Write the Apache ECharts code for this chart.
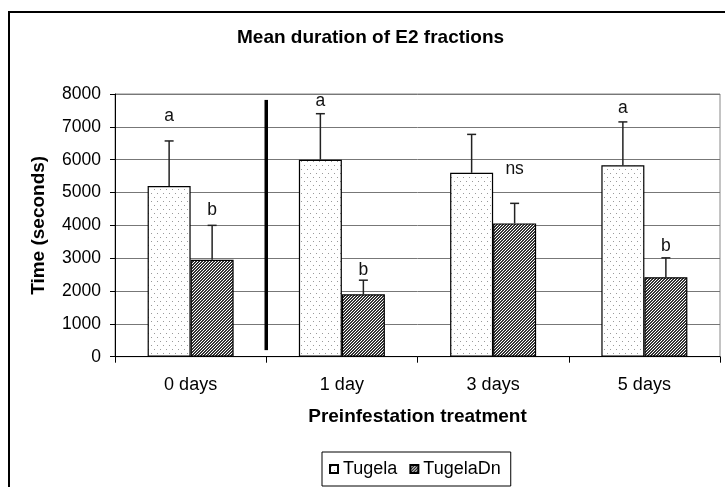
<!DOCTYPE html>
<html><head><meta charset="utf-8">
<script src="https://cdn.jsdelivr.net/npm/echarts@6/dist/echarts.min.js"></script>
<style>html,body{margin:0;padding:0;background:#fff}#c{width:725px;height:487px}</style>
</head><body><div id="c"></div><script>
const categories = ['0 days', '1 day', '3 days', '5 days'];
const tugela = [5200, 6000, 5600, 5830];
const tugelaSD = [1370, 1400, 1170, 1320];
const tugelaDn = [2950, 1900, 4060, 2420];
const tugelaDnSD = [1050, 430, 610, 590];
const tugelaLetters = ['a', 'a', '', 'a'];
const tugelaLetterAt = [7330, 7770, null, 7560];
const tugelaDnLetters = ['b', 'b', 'ns', 'b'];
const tugelaDnLetterAt = [4450, 2620, 5720, 3380];
const yMin = 0, yMax = 8000, yStep = 1000;
const separatorAfter = 0, separatorFrom = 200, separatorTo = 7820;

const BAR_W = 43;
const FONT = "'Liberation Sans', Arial, sans-serif";
const FS = 17.5;

function dotPattern() {
  const c = document.createElement('canvas'); c.width = 6; c.height = 8;
  const g = c.getContext('2d');
  g.fillStyle = '#fff'; g.fillRect(0, 0, 6, 8);
  g.fillStyle = '#9a9a9a'; g.fillRect(1, 1, 1, 1); g.fillRect(4, 5, 1, 1);
  return c;
}
function hatchPattern() {
  const c = document.createElement('canvas'); c.width = 3; c.height = 3;
  const g = c.getContext('2d');
  g.fillStyle = '#fff'; g.fillRect(0, 0, 3, 3);
  g.fillStyle = '#333';
  for (let x = 0; x < 3; x++) for (let y = 0; y < 3; y++) if ((x + y) % 3 < 2) g.fillRect(x, y, 1, 1);
  return c;
}

const chart = echarts.init(document.getElementById('c'), null, {renderer: 'canvas'});

function errSeries(means, sds, sign) {
  return {
    type: 'custom', z: 5, silent: true,
    data: means.map((m, i) => [i, m, m + sds[i]]),
    encode: {x: 0, y: [1, 2]},
    renderItem: function (params, api) {
      const p0 = api.coord([api.value(0), api.value(1)]);
      const p1 = api.coord([api.value(0), api.value(2)]);
      const x = p0[0] + sign * BAR_W / 2;
      const st = {stroke: '#222', lineWidth: 1.5};
      return {type: 'group', children: [
        {type: 'line', shape: {x1: x, y1: p0[1], x2: x, y2: p1[1]}, style: st},
        {type: 'line', shape: {x1: x - 4.5, y1: p1[1], x2: x + 4.5, y2: p1[1]}, style: st}
      ]};
    }
  };
}
function letterSeries(letters, at, sign) {
  return {
    type: 'custom', z: 6, silent: true,
    data: at.map((v, i) => [i, v == null ? 0 : v]),
    encode: {x: 0, y: 1},
    renderItem: function (params, api) {
      const i = params.dataIndex;
      if (!letters[i]) return null;
      const p = api.coord([api.value(0), api.value(1)]);
      return {type: 'text', style: {text: letters[i], x: p[0] + sign * BAR_W / 2, y: p[1],
        align: 'center', verticalAlign: 'middle', fill: '#111', font: FS + 'px ' + FONT}};
    }
  };
}

chart.setOption({
  animation: false,
  textStyle: {fontFamily: FONT},
  title: {text: 'Mean duration of E2 fractions', left: 237, top: 28, padding: 0,
    textStyle: {fontSize: 19, fontWeight: 'bold', color: '#000', fontFamily: FONT}},
  graphic: [{type: 'rect', shape: {x: 9, y: 12, width: 730, height: 490}, style: {fill: 'none', stroke: '#000', lineWidth: 2}, z: -1}],
  legend: {data: ['Tugela', 'TugelaDn'], left: 322, top: 452, orient: 'horizontal',
    padding: [8, 10, 8, 7], itemGap: 12, itemWidth: 8, itemHeight: 8, icon: 'rect',
    borderColor: '#000', borderWidth: 1, borderRadius: 0,
    textStyle: {fontSize: 18, color: '#000', fontFamily: FONT}},
  grid: {left: 115, right: 5, top: 94, bottom: 130.3, show: true, borderColor: '#888', borderWidth: 1, containLabel: false},
  xAxis: {type: 'category', data: categories,
    name: 'Preinfestation treatment', nameLocation: 'middle', nameGap: 51,
    nameTextStyle: {fontSize: 19, fontWeight: 'bold', color: '#000'},
    axisLine: {lineStyle: {color: '#000', width: 1}},
    axisTick: {show: true, length: 6, lineStyle: {color: '#000'}},
    axisLabel: {fontSize: 18, color: '#000', margin: 19},
    splitLine: {show: false}},
  yAxis: {type: 'value', min: yMin, max: yMax, interval: yStep,
    name: 'Time (seconds)', nameLocation: 'middle', nameGap: 67,
    nameTextStyle: {fontSize: 19, fontWeight: 'bold', color: '#000'},
    axisLine: {show: true, lineStyle: {color: '#000', width: 1}},
    axisTick: {show: true, length: 5, lineStyle: {color: '#000'}},
    axisLabel: {fontSize: FS, color: '#000', margin: 14, formatter: function (v) { return String(v); }},
    splitLine: {show: true, lineStyle: {color: '#777', width: 1}}},
  series: [
    {name: 'Tugela', type: 'bar', data: tugela, barWidth: BAR_W, barGap: '0%',
      itemStyle: {color: {image: dotPattern(), repeat: 'repeat'}, borderColor: '#000', borderWidth: 1.2}},
    {name: 'TugelaDn', type: 'bar', data: tugelaDn, barWidth: BAR_W, barGap: '0%',
      itemStyle: {color: {image: hatchPattern(), repeat: 'repeat'}, borderColor: '#000', borderWidth: 1.2}},
    errSeries(tugela, tugelaSD, -1),
    errSeries(tugelaDn, tugelaDnSD, 1),
    letterSeries(tugelaLetters, tugelaLetterAt, -1),
    letterSeries(tugelaDnLetters, tugelaDnLetterAt, 1),
    {type: 'custom', z: 7, silent: true,
      data: [[separatorAfter, separatorFrom, separatorTo]],
      encode: {x: 0, y: [1, 2]},
      renderItem: function (params, api) {
        const a = api.coord([api.value(0), api.value(1)]);
        const b = api.coord([api.value(0), api.value(2)]);
        const x = a[0] + api.size([1, 0])[0] / 2;
        return {type: 'line', shape: {x1: x, y1: a[1], x2: x, y2: b[1]}, style: {stroke: '#000', lineWidth: 3.5}};
      }}
  ]
});
</script></body></html>
